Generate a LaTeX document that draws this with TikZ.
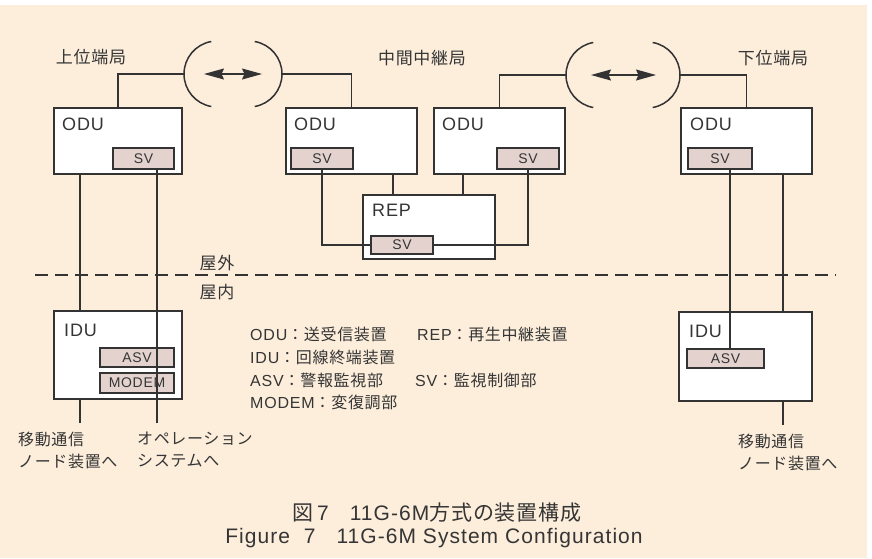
\documentclass[tikz,border=0pt]{standalone}
\usepackage{fontspec}
\setmainfont{Liberation Sans}[LetterSpace=5]
\newfontfamily\jpf{Noto Sans CJK JP}[LetterSpace=4]
\newcommand\J[1]{{\jpf #1}}
\usetikzlibrary{arrows.meta,calc}
\definecolor{bg}{HTML}{FDEEDC}
\definecolor{svfill}{HTML}{E3D2CE}
\definecolor{ink}{HTML}{333333}
\definecolor{txt}{HTML}{353535}
\begin{document}
\begin{tikzpicture}[x=1pt,y=-1pt,
  wire/.style={draw=ink,line width=1.3pt},
  unit/.style={draw=ink,line width=1.3pt,fill=white,rectangle,inner sep=0pt,outer sep=0pt},
  sub/.style={draw=ink,line width=1.3pt,fill=svfill,rectangle,inner sep=0pt,outer sep=0pt,text=txt,font=\fontsize{14}{16}\selectfont},
  ttl/.style={text=txt,font=\fontsize{18}{20}\selectfont,anchor=west,inner sep=0pt},
  lbl/.style={text=txt,font=\fontsize{17}{20}\selectfont,inner sep=0pt},
  leg/.style={text=txt,font=\fontsize{16}{18}\selectfont,anchor=west,inner sep=0pt},
  bot/.style={text=txt,font=\fontsize{16}{22}\selectfont,anchor=west,align=left,inner sep=0pt},
  captext/.style={text=txt,font=\fontsize{21}{23}\selectfont,inner sep=0pt},
  tip/.tip={Stealth[length=20pt,width=11pt,inset=2.5pt]},
  dbl/.style={draw=ink,fill=ink,line width=1.3pt,tip-tip},
  arcstyle/.style={draw=ink,line width=1.5pt}
]
\useasboundingbox (0,0) rectangle (872,558);
\fill[white] (0,0) rectangle (872,558);
\fill[bg] (0,5) rectangle (867,558);

% ----- units
\node[unit,minimum width=128pt,minimum height=66pt] (oduA) at (118,141) {};
\node[sub,minimum width=61pt,minimum height=21pt] (svA) at (143.5,158.5) {SV};
\node[ttl] (oduAt) at ($(oduA.north west)+(8,16)$) {ODU};

\node[unit,minimum width=131pt,minimum height=66pt] (oduB) at (351.5,141) {};
\node[sub,minimum width=62pt,minimum height=21pt] (svB) at (322,158.5) {SV};
\node[ttl] (oduBt) at ($(oduB.north west)+(8,16)$) {ODU};

\node[unit,minimum width=131pt,minimum height=66pt] (oduC) at (499.5,141) {};
\node[sub,minimum width=62pt,minimum height=21pt] (svC) at (528,158.5) {SV};
\node[ttl] (oduCt) at ($(oduC.north west)+(8,16)$) {ODU};

\node[unit,minimum width=132pt,minimum height=64pt] (rep) at (429,227) {};
\node[sub,minimum width=62pt,minimum height=18pt] (svR) at (402,245) {SV};
\node[ttl] (rept) at ($(rep.north west)+(9,15)$) {REP};

\node[unit,minimum width=131pt,minimum height=66pt] (oduD) at (746.5,141) {};
\node[sub,minimum width=64pt,minimum height=21pt] (svD) at (720,158.5) {SV};
\node[ttl] (oduDt) at ($(oduD.north west)+(9,16)$) {ODU};

\node[unit,minimum width=128pt,minimum height=88pt] (iduA) at (118,355) {};
\node[sub,minimum width=74pt,minimum height=19pt] (asvA) at (137,357.5) {ASV};
\node[sub,minimum width=74pt,minimum height=20pt] (modem) at (137,383) {MODEM};
\node[ttl] (iduAt) at ($(iduA.north west)+(10,19)$) {IDU};

\node[unit,minimum width=133pt,minimum height=89pt] (iduB) at (745.5,356.5) {};
\node[sub,minimum width=77pt,minimum height=19pt] (asvB) at (725.5,358.5) {ASV};
\node[ttl] (iduBt) at ($(iduB.north west)+(10,19)$) {IDU};

% ----- antennas
\coordinate (a1L) at (184,74);
\coordinate (a1R) at (282,74);
\coordinate (a2L) at (566,75);
\coordinate (a2R) at (680,75);
\draw[arcstyle] (a1L) arc[start angle=180,end angle=100,radius=33pt];
\draw[arcstyle] (a1L) arc[start angle=180,end angle=260,radius=33pt];
\draw[arcstyle] (a1R) arc[start angle=0,end angle=80,radius=33pt];
\draw[arcstyle] (a1R) arc[start angle=0,end angle=-80,radius=33pt];
\draw[arcstyle] (a2L) arc[start angle=180,end angle=100,radius=33pt];
\draw[arcstyle] (a2L) arc[start angle=180,end angle=260,radius=33pt];
\draw[arcstyle] (a2R) arc[start angle=0,end angle=80,radius=33pt];
\draw[arcstyle] (a2R) arc[start angle=0,end angle=-80,radius=33pt];
\coordinate (r1a) at (204,74);
\coordinate (r1b) at (262,74);
\coordinate (r2a) at (591,75);
\coordinate (r2b) at (656,75);
\draw[dbl] (r1a) -- (r1b);
\draw[dbl] (r2a) -- (r2b);

% ----- connectors
\draw[wire] (oduA.north) |- (a1L);
\draw[wire] (a1R) -| (oduB.north);
\draw[wire] (oduC.north) |- (a2L);
\draw[wire] (a2R) -| (oduD.north);

\coordinate (xA1) at (80,0);
\coordinate (endA1) at (80,423);
\coordinate (endA2) at (157,423);
\draw[wire] (oduA.south -| xA1) -- (iduA.north -| xA1);
\draw[wire] (iduA.south -| endA1) -- (endA1);
\draw[wire] (svA.south -| endA2) -- (endA2);

\coordinate (xB) at (393,0);
\coordinate (xC) at (463,0);
\draw[wire] (oduB.south -| xB) -- (rep.north -| xB);
\draw[wire] (oduC.south -| xC) -- (rep.north -| xC);
\draw[wire] (svB.south) |- (svR.west);
\draw[wire] (svC.south) |- (svR.east);

\coordinate (xD1) at (730,0);
\coordinate (endD) at (783,425);
\draw[wire] (svD.south -| xD1) -- (asvB.north -| xD1);
\draw[wire] (oduD.south -| endD) -- (iduB.north -| endD);
\draw[wire] (iduB.south -| endD) -- (endD);

% ----- indoor / outdoor border
\coordinate (dl) at (35,275);
\coordinate (dr) at (836,275);
\draw[draw=ink,line width=1.4pt,dash pattern=on 13pt off 7pt] (dl) -- (dr);
\node[lbl] (out) at (217,263) {\J{屋外}};
\node[lbl] (in) at (217,292) {\J{屋内}};

% ----- station labels
\node[lbl] (stA) at (91,57) {\J{上位端局}};
\node[lbl] (stB) at (422,58) {\J{中間中継局}};
\node[lbl] (stC) at (773,58) {\J{下位端局}};

% ----- legend
\node[leg] (lg1) at (250,334) {ODU\J{：送受信装置}};
\node[leg] (lg1b) at (417,334) {REP\J{：再生中継装置}};
\node[leg] (lg2) at (250,357) {IDU\J{：回線終端装置}};
\node[leg] (lg3) at (250,380) {ASV\J{：警報監視部}};
\node[leg] (lg3b) at (415,380) {SV\J{：監視制御部}};
\node[leg] (lg4) at (250,402) {MODEM\J{：変復調部}};

% ----- bottom labels
\node[bot] (bA) at (18,450) {\J{移動通信}\\\J{ノード装置へ}};
\node[bot] (bB) at (137,450) {\J{オペレーション}\\\J{システムへ}};
\node[bot] (bC) at (738,452) {\J{移動通信}\\\J{ノード装置へ}};

% ----- caption
\node[captext] (cap1) at (437,513) {\J{図}\,7\J{　}11G-6M\J{方式の装置構成}};
\node[captext] (cap2) at (434,538) {Figure\ \ 7\quad 11G-6M System Configuration};
\end{tikzpicture}
\end{document}
